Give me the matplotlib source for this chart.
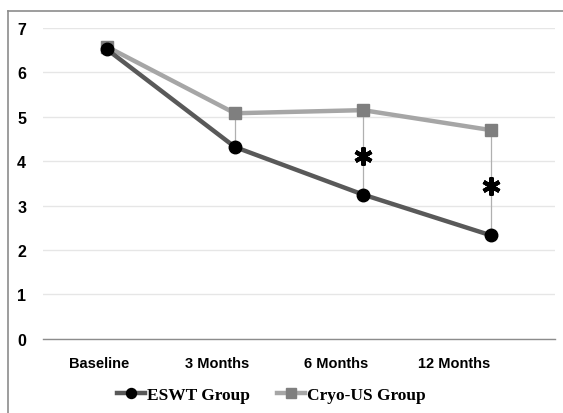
import matplotlib
matplotlib.use("Agg")
import matplotlib.pyplot as plt
import matplotlib.transforms as mtransforms
from matplotlib.lines import Line2D

# data
categories = ["Baseline", "3 Months", "6 Months", "12 Months"]
eswt = [6.52, 4.32, 3.25, 2.33]
cryo = [6.58, 5.08, 5.15, 4.70]
significant = [False, False, True, True]
y_ticks = [0, 1, 2, 3, 4, 5, 6, 7]

fig = plt.figure(figsize=(5.63, 4.14), dpi=100)
ax = fig.add_axes([0.076, 0.179, 0.910, 0.751])

x = list(range(len(categories)))

# high-low lines between the two groups
ax.vlines(x[1:], eswt[1:], cryo[1:], color="#b0b0b0", lw=0.9, zorder=2)

ax.plot(x, cryo, color="#a6a6a6", lw=3.2, marker="s", ms=8.5,
        mfc="#7f7f7f", mec="#7f7f7f", zorder=3, label="Cryo-US Group")
ax.plot(x, eswt, color="#595959", lw=3.2, marker="o", ms=9,
        mfc="black", mec="black", zorder=4, label="ESWT Group")

# asterisks for significant differences
sx = [x[i] for i, s in enumerate(significant) if s]
sy = [(eswt[i] + cryo[i]) / 2 - 0.08 for i, s in enumerate(significant) if s]
ax.plot(sx, sy, ls="none", marker=(6, 2, 0), ms=13, mew=3, color="black",
        zorder=5)

ax.set_xlim(-0.5, 3.5)
ax.set_ylim(0, 7)
ax.set_yticks(y_ticks)
ax.set_yticklabels([str(v) for v in y_ticks], fontsize=11.5,
                   fontweight="bold", family="Liberation Sans")
ax.yaxis.grid(True, color="#e6e6e6", lw=1)
ax.set_axisbelow(True)
ax.tick_params(axis="y", length=0, pad=12)
ax.tick_params(axis="x", length=0, pad=12)
ax.set_xticks(x)
ax.set_xticklabels(categories, fontsize=10.5, fontweight="bold",
                   family="Liberation Sans")
# category labels drift slightly left of the points in the original
for i, lab in enumerate(ax.get_xticklabels()):
    off = mtransforms.ScaledTranslation(-(8 + 9.5 * i) / 100, 0, fig.dpi_scale_trans)
    lab.set_transform(lab.get_transform() + off)

for s in ["top", "right", "left"]:
    ax.spines[s].set_visible(False)
ax.spines["bottom"].set_color("#8c8c8c")
ax.spines["bottom"].set_linewidth(1)

# outer frame lines (left and top)
fig.add_artist(Line2D([0.015, 0.015], [0, 0.972], transform=fig.transFigure,
                      color="#8c8c8c", lw=1.2))
fig.add_artist(Line2D([0.015, 1.0], [0.972, 0.972], transform=fig.transFigure,
                      color="#8c8c8c", lw=1.2))

handles, labels = ax.get_legend_handles_labels()
leg = fig.legend(handles[::-1], labels[::-1], loc="center",
                 bbox_to_anchor=(0.482, 0.044), ncol=2, frameon=False,
                 prop={"family": "Liberation Serif", "weight": "bold", "size": 12.5},
                 handlelength=1.6, handletextpad=0.1, columnspacing=1.6,
                 markerscale=0.8)

fig.savefig("out.png", dpi=100, facecolor="white")
